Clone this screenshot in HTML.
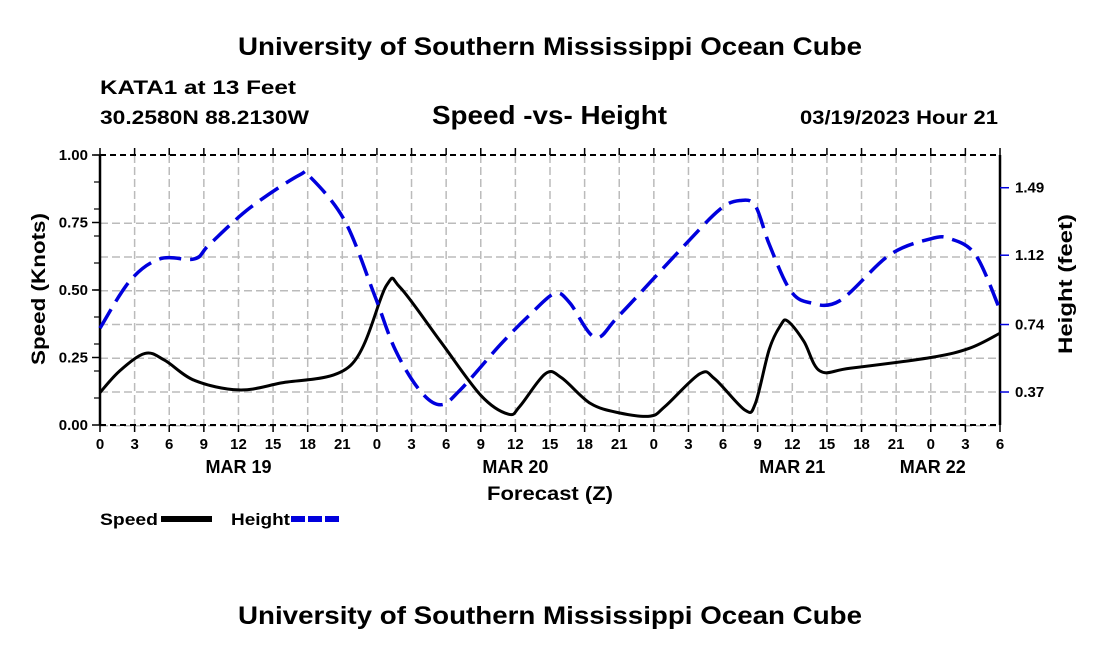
<!DOCTYPE html>
<html><head><meta charset="utf-8"><style>
body{margin:0;background:#fff;}
svg text{font-family:"Liberation Sans",sans-serif;font-weight:bold;fill:#000;}
</style></head><body>
<svg width="1100" height="650" viewBox="0 0 1100 650">
<text x="238" y="55" font-size="25" textLength="624" lengthAdjust="spacingAndGlyphs">University of Southern Mississippi Ocean Cube</text>
<text x="100" y="94" font-size="19" textLength="196" lengthAdjust="spacingAndGlyphs">KATA1 at 13 Feet</text>
<text x="100" y="124" font-size="19" textLength="209" lengthAdjust="spacingAndGlyphs">30.2580N  88.2130W</text>
<text x="432" y="124" font-size="26" textLength="235" lengthAdjust="spacingAndGlyphs">Speed -vs- Height</text>
<text x="800" y="124" font-size="19" textLength="198" lengthAdjust="spacingAndGlyphs">03/19/2023 Hour 21</text>
<g id="grid"></g>
<g id="axes"></g>
<g id="series"></g>
<text x="487" y="500" font-size="19" textLength="126" lengthAdjust="spacingAndGlyphs">Forecast (Z)</text>
<text transform="translate(45,365) rotate(-90)" font-size="19" textLength="152" lengthAdjust="spacingAndGlyphs">Speed (Knots)</text>
<text transform="translate(1072,354) rotate(-90)" font-size="19" textLength="140" lengthAdjust="spacingAndGlyphs">Height (feet)</text>
<g>
<text x="100" y="525" font-size="17" textLength="58" lengthAdjust="spacingAndGlyphs">Speed</text>
<line x1="161" y1="519" x2="212" y2="519" stroke="#000" stroke-width="6"/>
<text x="231" y="525" font-size="17" textLength="59" lengthAdjust="spacingAndGlyphs">Height</text>
<line x1="291" y1="519" x2="342" y2="519" stroke="#0000dd" stroke-width="6" stroke-dasharray="14,3"/>
</g>
<text x="238" y="624" font-size="25" textLength="624" lengthAdjust="spacingAndGlyphs">University of Southern Mississippi Ocean Cube</text>
</svg>
<script>
const speedHours=[0,1.7,3.9,5.6,8.2,12,15.6,21.7,24.8,26,29.5,33,35.4,36.4,38.6,40,42.5,45,47.7,49,52,53.3,55.9,56.8,58,59,59.6,61,62.4,65,72,75.4,78];
const speedValues=[0.12,0.2,0.265,0.24,0.165,0.13,0.155,0.22,0.515,0.51,0.31,0.11,0.04,0.07,0.19,0.175,0.08,0.045,0.033,0.07,0.19,0.17,0.055,0.08,0.28,0.37,0.385,0.31,0.2,0.21,0.25,0.285,0.34];
const heightHours=[0,2.6,5.2,8.2,9.5,13,17.3,18.2,21.2,23.8,25.6,27.7,29.5,31.2,34.7,37.2,39.4,40.7,42.9,45,50.3,53.7,55.5,56.8,58,59.8,61.5,64.1,68.4,72,73.7,75.9,78];
const heightValues=[0.72,0.98,1.1,1.1,1.18,1.38,1.56,1.55,1.31,0.9,0.6,0.38,0.3,0.38,0.63,0.79,0.91,0.86,0.67,0.79,1.15,1.37,1.42,1.39,1.18,0.93,0.86,0.87,1.12,1.21,1.21,1.12,0.82];
const leftTicks=[0,0.25,0.5,0.75,1.0];
const rightTicks=[0.37,0.74,1.12,1.49];
const hourLabels=["0","3","6","9","12","15","18","21","0","3","6","9","12","15","18","21","0","3","6","9","12","15","18","21","0","3","6"];
const dayLabels=["MAR 19","MAR 20","MAR 21","MAR 22"];
const dayHours=[12,36,60,72];

const NS="http://www.w3.org/2000/svg";
const X0=100,X1=1000,Y0=425,Y1=155,H=78;
const xs=h=>X0+(X1-X0)*h/H;
const yl=v=>Y0-(Y0-Y1)*v;
const yr=f=>459.5-f*182.4;
function mk(tag,attrs,parent){const e=document.createElementNS(NS,tag);for(const k in attrs)e.setAttribute(k,attrs[k]);parent.appendChild(e);return e;}
const grid=document.getElementById('grid'),axes=document.getElementById('axes'),series=document.getElementById('series');
for(let i=1;i<26;i++){const l=mk('line',{x1:xs(i*3),x2:xs(i*3),y1:Y1,y2:Y0,stroke:'#bbb','stroke-width':1.5,'stroke-dasharray':'8,4'},grid);

}
for(let i=1;i<8;i++){const y=459.5-33.75*i;const l=mk('line',{x1:X0,x2:X1,y1:y,y2:y,stroke:'#bbb','stroke-width':1.5,'stroke-dasharray':'8,4'},grid);

}
mk('line',{x1:X0,x2:X1,y1:Y1,y2:Y1,stroke:'#000','stroke-width':2,'stroke-dasharray':'6,4'},axes);
mk('line',{x1:X0,x2:X1,y1:Y0,y2:Y0,stroke:'#000','stroke-width':2,'stroke-dasharray':'6,4'},axes);
mk('line',{x1:X0,x2:X0,y1:Y1,y2:Y0,stroke:'#000','stroke-width':2.5},axes);
mk('line',{x1:X1,x2:X1,y1:Y1,y2:Y0,stroke:'#000','stroke-width':2.5},axes);
for(let v=0.1;v<1;v+=0.1){mk('line',{x1:X0-6,x2:X0,y1:yl(v),y2:yl(v),stroke:'#000','stroke-width':1.2},axes);}
leftTicks.forEach(v=>{mk('line',{x1:X0-8,x2:X0,y1:yl(v),y2:yl(v),stroke:'#000','stroke-width':1.5},axes);
const t=mk('text',{x:X0-12,y:yl(v)+5,'font-size':15,'text-anchor':'end'},axes);t.textContent=v.toFixed(2);

});
rightTicks.forEach(v=>{mk('line',{x1:X1,x2:X1+9,y1:yr(v),y2:yr(v),stroke:'#0000dd','stroke-width':1.5},axes);
const t=mk('text',{x:X1+15,y:yr(v)+5,'font-size':15},axes);t.textContent=v.toFixed(2);

});
hourLabels.forEach((s,i)=>{const x=xs(i*3);
mk('line',{x1:x,x2:x,y1:Y0,y2:Y0+7,stroke:'#000','stroke-width':1.5},axes);
mk('line',{x1:x,x2:x,y1:Y1-7,y2:Y1,stroke:'#000','stroke-width':1.5},axes);
const t=mk('text',{x:x,y:449,'font-size':15,'text-anchor':'middle'},axes);t.textContent=s;

});
dayLabels.forEach((s,i)=>{const t=mk('text',{x:xs(dayHours[i])+(i==3?2:0),y:473,'font-size':18,'text-anchor':'middle'},axes);t.textContent=s;

});
function smooth(pts){let d=`M${pts[0][0]},${pts[0][1]}`;for(let i=0;i<pts.length-1;i++){const p0=pts[Math.max(i-1,0)],p1=pts[i],p2=pts[i+1],p3=pts[Math.min(i+2,pts.length-1)];
d+=` C${p1[0]+(p2[0]-p0[0])/6},${p1[1]+(p2[1]-p0[1])/6} ${p2[0]-(p3[0]-p1[0])/6},${p2[1]-(p3[1]-p1[1])/6} ${p2[0]},${p2[1]}`;}return d;}
const sp=mk('path',{d:smooth(speedHours.map((h,i)=>[xs(h),yl(speedValues[i])])),fill:'none',stroke:'#000','stroke-width':3},series);


const hp=mk('path',{d:smooth(heightHours.map((h,i)=>[xs(h),yr(heightValues[i])])),fill:'none',stroke:'#0000dd','stroke-width':3.5,'stroke-dasharray':'22,9'},series);


</script>
</body></html>
